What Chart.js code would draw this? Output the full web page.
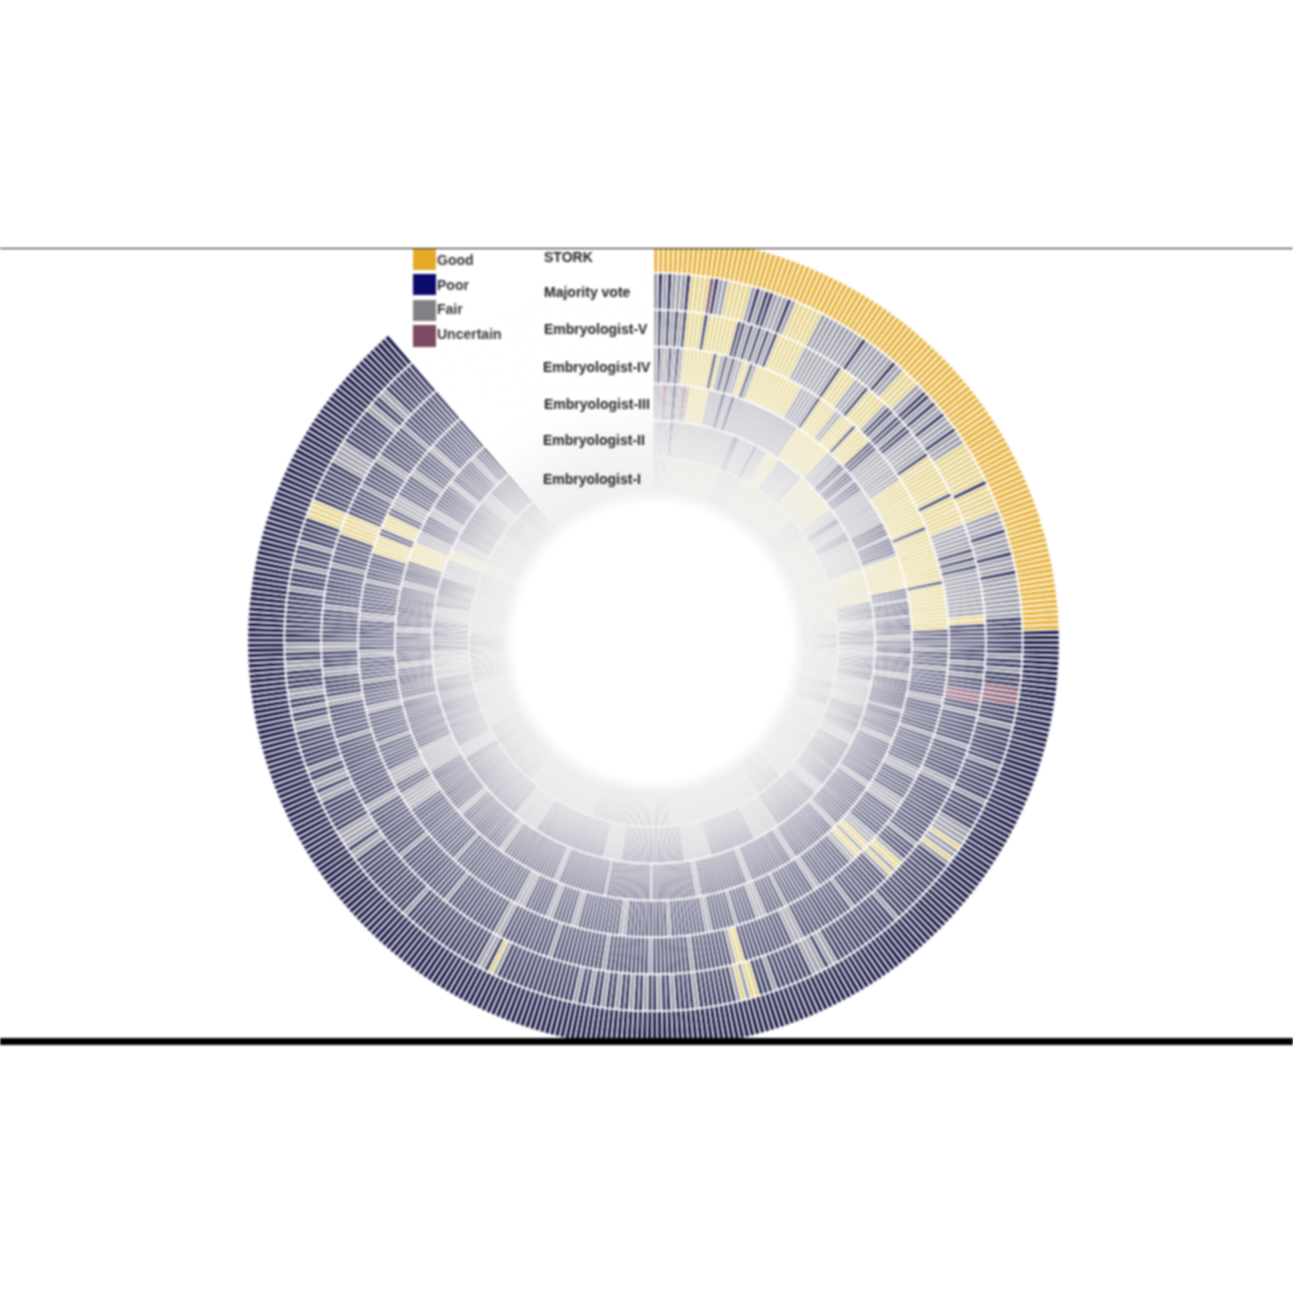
<!DOCTYPE html>
<html>
<head>
<meta charset="utf-8">
<title>Embryo grading rings</title>
<script src="https://cdn.jsdelivr.net/npm/chart.js@4"></script>
<style>
  html, body { margin: 0; padding: 0; background: #fff; }
  #wrap { position: relative; width: 1293px; height: 1293px; }
  #chart { filter: blur(0.8px); }
</style>
</head>
<body>
<div id="wrap"><canvas id="chart" width="1293" height="1293"></canvas></div>
<script>
// Grades, as in the legend
const gradeNames = ['Good', 'Poor', 'Fair', 'Uncertain'];
const gradeCodes = ['G', 'P', 'F', 'U'];
const storkColors = ['#e5ae30', '#12113f', '#85858f', '#7c4a62'];
const readerColors = ['#e0cb78', '#20204c', '#8b8b9a', '#7c4a62'];
const swatchColors = ['#e5aa28', '#0d0a6e', '#808285', '#7c4a62'];

// Ring names, outermost first
const ringNames = ['STORK', 'Majority vote', 'Embryologist-V', 'Embryologist-IV', 'Embryologist-III', 'Embryologist-II', 'Embryologist-I'];

// Number of embryos round the ring (one cell each)
const cellCount = 434;

// Each ring: "start cell + grade", the grade holds until the next entry
const ringStork = '0G 120P';
const ringMajority = '0F 1P 2F 3P 4F 7P 8G 12U 13P 14F 16G 21F 22P 23F 24P 26F 29P 30F 31G 37F 47P 48F 55P 56F 58G 62F 64P 66F 67P 68F 70P 71F 74P 75F 78G 87P 88G 94F 98P 99F 103P 104F 107P 108F 117P 125F 126P 128F 129P 132U 136P 140F 141P 149F 150P 157F 158P 164F 166F 168G 169F 171G 172F 173P 188F 189P 204F 206P 207F 210P 218F 219P 222G 224F 225G 226F 227P 235F 236P 240F 241P 243F 244P 246F 247P 249F 250P 252F 253P 255F 256P 258F 259P 261F 262P 279F 280G 281P 282F 284P 302F 303P 318F 320P 321F 323F 325P 332F 334P 335F 337P 339F 340P 348F 350P 352F 353P 355F 357P 361F 363P 365F 367P 378F 379P 383F 384P 388F 389P 394G 398P 407F 411F 412P 420F 422P 424F 426P';
const ringV = '0F 1P 2F 3P 4F 5P 6F 7P 8G 12P 13G 20P 22F 23P 24F 25P 26F 27P 28F 29P 30G 37F 46P 47G 51F 54P 55G 60F 61P 63F 64P 66F 67P 69F 75P 76G 86P 87G 94F 100P 101F 102P 103F 104P 105F 116G 118P 127F 128P 130F 131P 134U 137P 139F 140P 147F 148P 156F 158P 173F 174P 178F 179G 181F 182G 183F 184P 194F 195P 208F 211P 223G 225F 226P 235F 236P 245F 246P 256F 257P 269F 270P 282F 284P 297F 298P 312F 313P 325F 327P 343F 344P 352F 354P 359F 361P 365F 367P 375F 376P 385F 386P 393G 398P 405F 406P 412F 414P 422F 423P';
const ringIV = '0F 1P 2F 4P 5F 6P 7F 8G 16P 17G 18F 19P 20F 21P 22F 24G 26P 27F 28G 41F 46P 47G 52F 54G 58P 59G 64P 67F 77G 91P 92G 106P 107G 119P 124F 125P 129F 130P 137F 139P 147F 148P 157F 160P 166F 170P 178F 181G 183F 184G 186F 188P 198F 200P 208F 209P 214F 217P 222F 223P 229F 231P 240F 241P 252F 254P 265F 267P 272F 274P 280F 283P 302F 303P 320F 325P 328F 332P 339F 340P 348F 350P 356F 357P 363F 365P 373F 375P 383F 384P 391G 396P 398G 402P 404F 408P 414F 416P 422F 424P';
const ringIII = '0F 3U 4F 6P 7F 9U 10F 11G 17F 21P 22F 24P 25F 46G 58F 63P 65F 66P 69F 70P 73F 85P 89F 90P 95F 96G 106P 109F 110P 114F 115P 120F 122P 126F 127P 132F 134P 143F 144P 152F 154P 167F 169P 183F 185P 199F 201P 214F 216P 230F 232P 245F 246P 259F 260P 274F 276P 293F 295P 310F 312P 326F 334P 349F 350P 359F 361P 370F 372P 384F 386P 392G 398F 402P 407F 410P 418F 420P 428F 430P';
const ringII = '0F 6P 7F 29P 31F 37P 38F 42G 47F 57G 72F 76P 78F 82P 85F 96G 108P 114F 118P 124F 128P 136F 146P 156F 160P 177F 181P 198F 208P 224F 234P 256F 263P 288F 298P 324F 329P 354F 364P 375F 380P 390F 397G 401F 405P 420F 425P';
const ringI = '0F 6G 29F 38G 66F 75G 113F 119P 125F 140P 150F 186P 197F 238P 271F 302P 330F 350P 370F 398G 402F 416P';
const ringRuns = [ringStork, ringMajority, ringV, ringIV, ringIII, ringII, ringI];

// Gap between cells, per ring
const ringGaps = [1.7, 1.7, 1.7, 1.7, 1.7, 1.7, 1.7];

// Expand "start + grade" entries to one colour per cell
function cellColors(runs, palette) {
    const entries = runs.split(' ').map(function(e) {
        return { start: parseInt(e, 10), color: palette[gradeCodes.indexOf(e.slice(-1))] };
    });
    const colors = [];
    entries.forEach(function(entry, i) {
        const end = i + 1 < entries.length ? entries[i + 1].start : cellCount;
        for (let c = entry.start; c < end; c++) colors.push(entry.color);
    });
    return colors;
}

const cellLabels = Array.from({ length: cellCount }, (_, i) => 'Embryo ' + (i + 1));

// Pale wash towards the hole, and the frame / labels
const pagePlugin = {
    id: 'pagePlugin',
    afterDatasetsDraw(chart) {
        const ctx = chart.ctx;
        const arc = chart.getDatasetMeta(0).data[0];
        const cx = arc.x, cy = arc.y, r0 = arc.outerRadius;
        const wash = ctx.createRadialGradient(cx, cy, 0, cx, cy, r0);
        const at = r => r / r0;
        wash.addColorStop(at(138), 'rgba(255,255,255,1)');
        wash.addColorStop(at(152), 'rgba(238,238,238,0.84)');
        wash.addColorStop(at(184), 'rgba(236,236,236,0.66)');
        wash.addColorStop(at(223), 'rgba(240,240,240,0.32)');
        wash.addColorStop(at(259), 'rgba(255,255,255,0.12)');
        wash.addColorStop(at(331), 'rgba(255,255,255,0.05)');
        wash.addColorStop(at(369), 'rgba(255,255,255,0)');
        ctx.save();
        ctx.fillStyle = wash;
        ctx.beginPath();
        ctx.arc(cx, cy, r0, 0, Math.PI * 2);
        ctx.fill();

        // Cropped top and the bar at the bottom
        ctx.fillStyle = '#fff';
        ctx.fillRect(0, 0, 1293, 249);
        ctx.fillRect(0, 1045, 1293, 248);
        ctx.fillStyle = '#111';
        ctx.fillRect(0, 248, 1293, 1);
        ctx.fillStyle = '#000';
        ctx.fillRect(0, 1038, 1293, 7);

        // Legend
        const swatchTops = [249, 274, 300, 325];
        const swatchHeights = [21, 21, 21, 22];
        const legendY = [261, 286, 310, 335];
        ctx.font = 'bold 14px "Liberation Sans", Arial, sans-serif';
        ctx.textBaseline = 'middle';
        gradeNames.forEach(function(name, i) {
            ctx.fillStyle = swatchColors[i];
            ctx.fillRect(413, swatchTops[i], 23, swatchHeights[i]);
            ctx.fillStyle = '#333';
            ctx.fillText(name, 437, legendY[i]);
        });

        // Ring names
        const nameX = [544, 544, 544, 543, 544, 543, 543];
        const nameY = [258, 293, 330, 368, 405, 441, 480];
        ctx.fillStyle = '#222';
        ringNames.forEach(function(name, i) {
            ctx.fillText(name, nameX[i], nameY[i]);
        });
        ctx.restore();
    }
};

const chart = new Chart(document.getElementById('chart'), {
    type: 'doughnut',
    data: {
        labels: cellLabels,
        datasets: ringRuns.map(function(runs, i) {
            return {
                label: ringNames[i],
                data: cellLabels.map(() => 1),
                backgroundColor: cellColors(runs, i === 0 ? storkColors : readerColors),
                borderColor: '#fff',
                borderWidth: ringGaps[i]
            };
        })
    },
    options: {
        responsive: false,
        animation: false,
        rotation: 0,
        circumference: 319.2,
        cutout: '36.4%',
        layout: { padding: { left: 246.5, right: 232.5, top: 235, bottom: 244 } },
        plugins: { legend: { display: false }, tooltip: { enabled: false } }
    },
    plugins: [pagePlugin]
});
</script>
</body>
</html>
